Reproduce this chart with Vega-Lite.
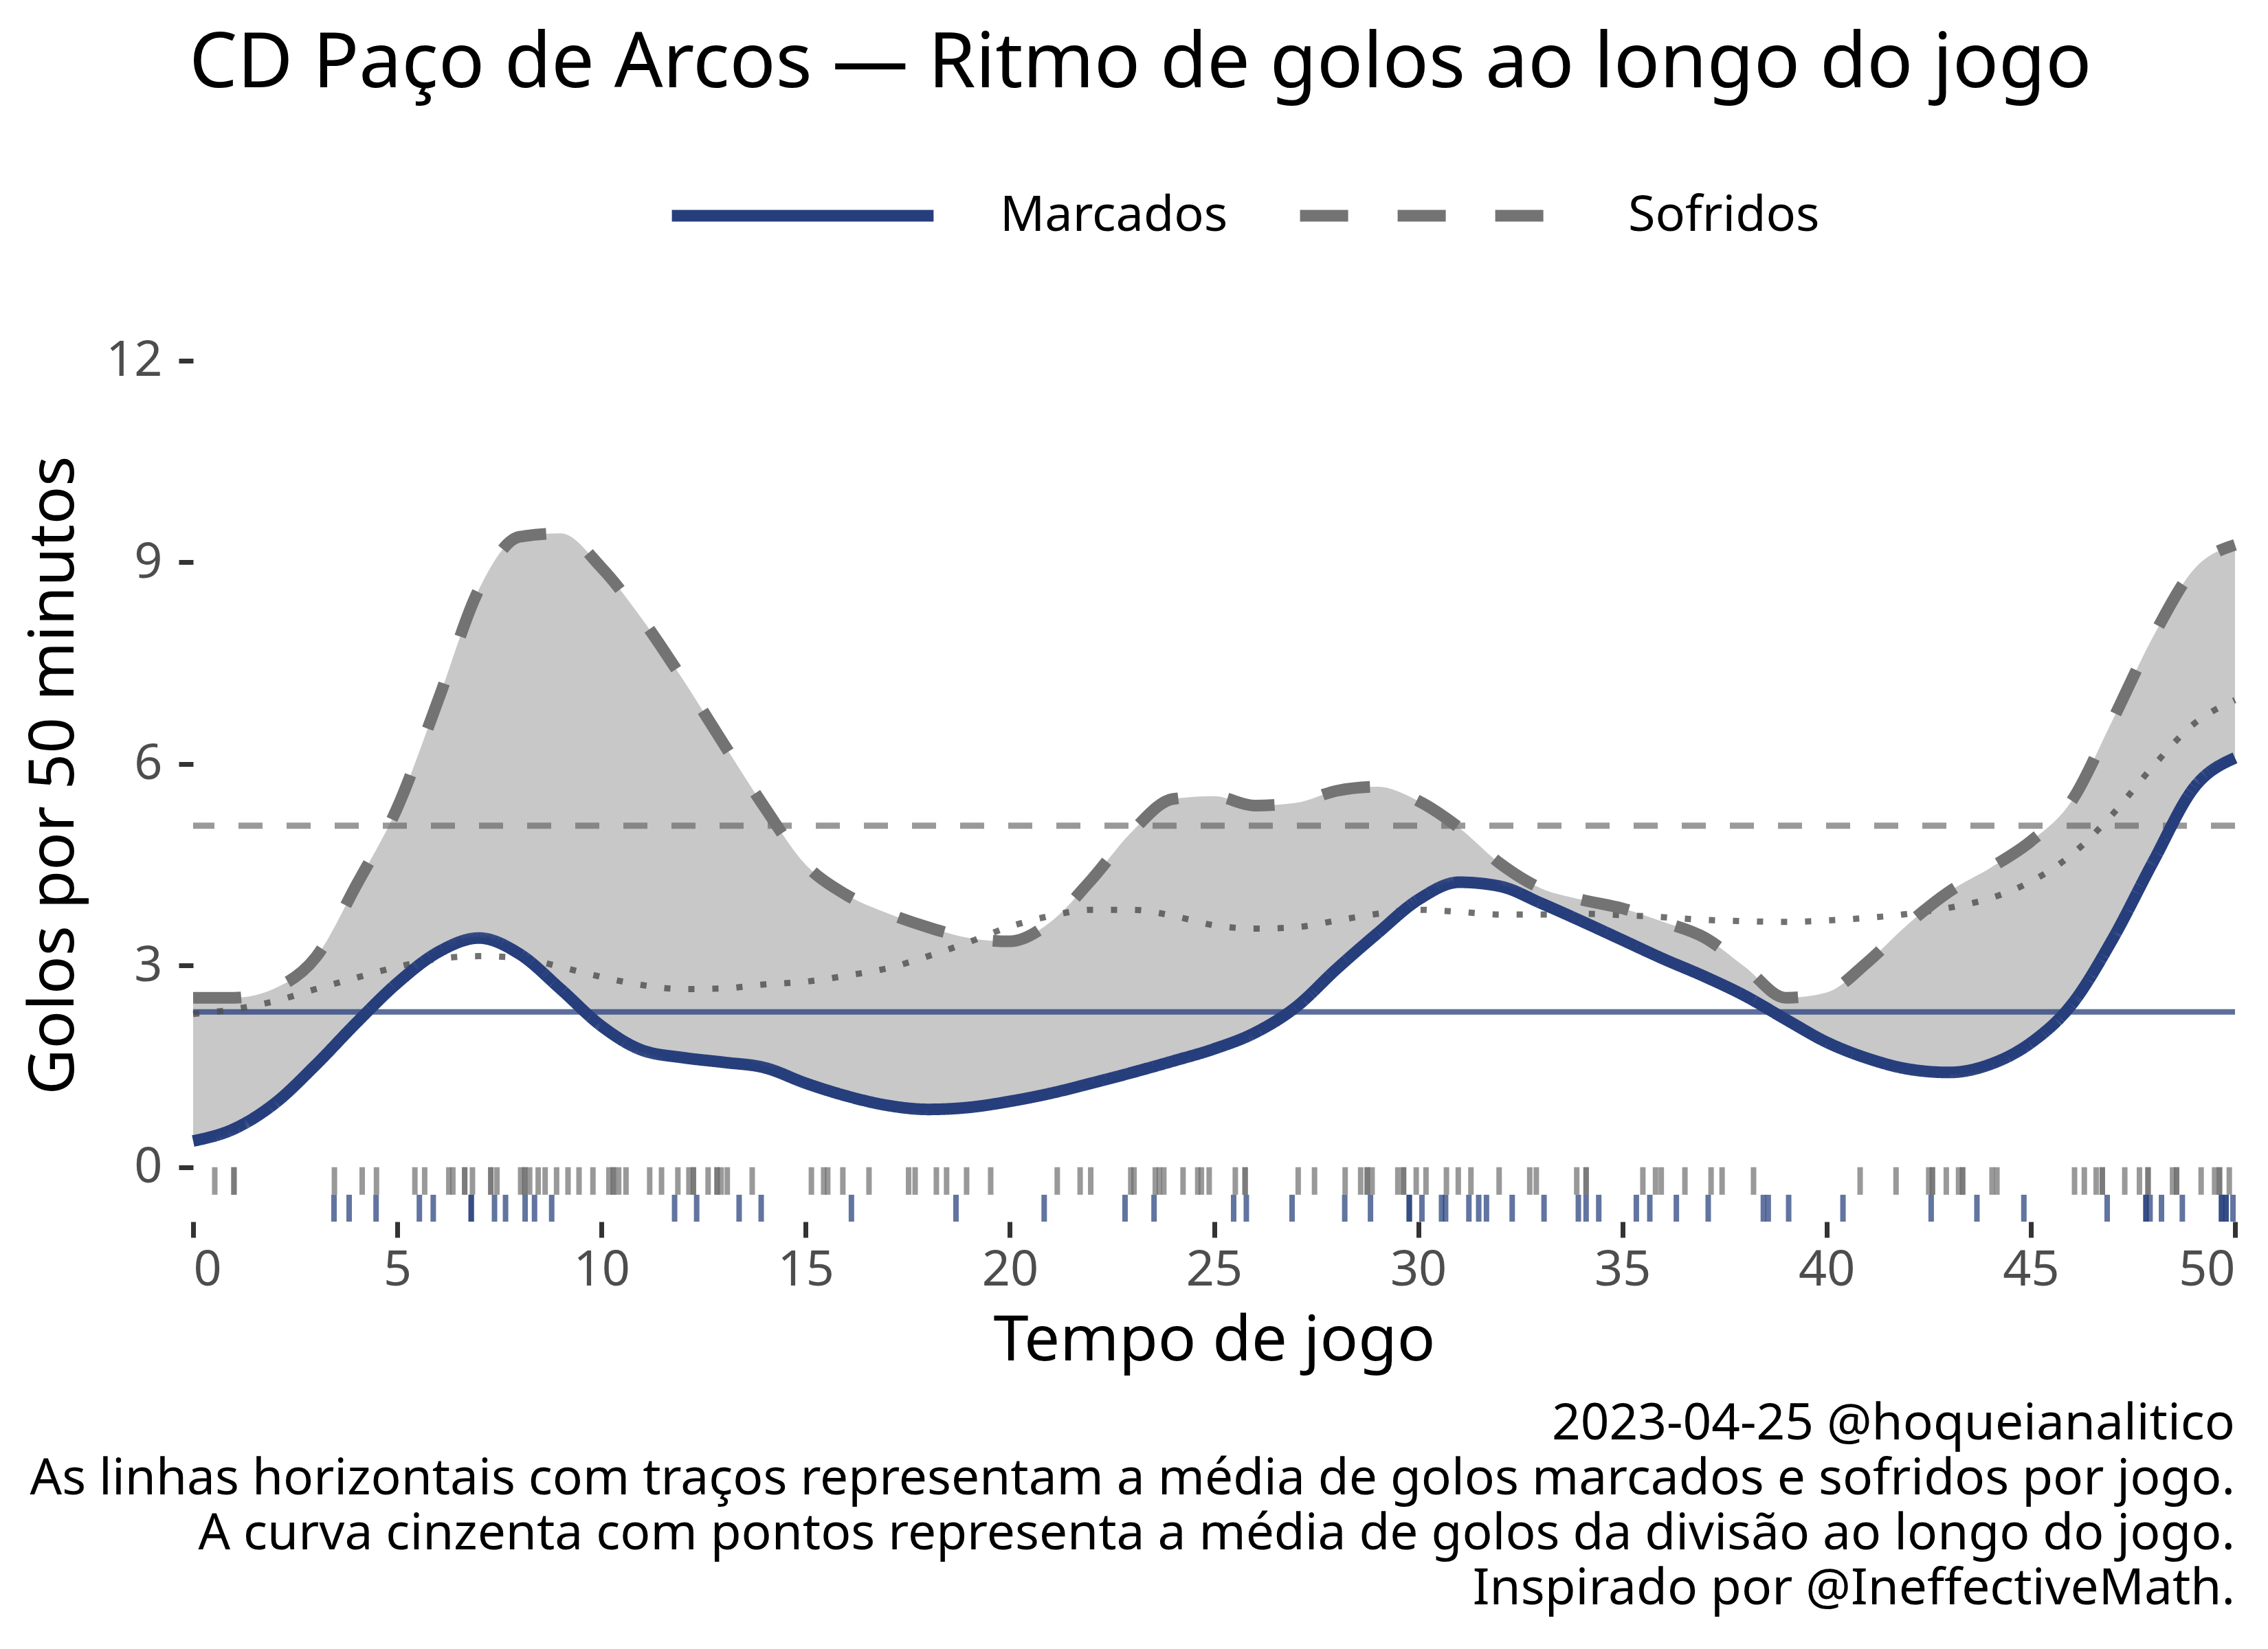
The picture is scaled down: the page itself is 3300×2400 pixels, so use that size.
{
  "$schema": "https://vega.github.io/schema/vega-lite/v6.json",
  "background": "white",
  "padding": {"left": 32, "top": 38, "right": 4, "bottom": 40},
  "config": {
    "font": "Noto Sans",
    "view": {"stroke": null},
    "concat": {"spacing": 0},
    "axis": {
      "domain": false,
      "grid": false,
      "tickColor": "#333333",
      "tickWidth": 7,
      "labelFont": "Noto Sans",
      "labelFontSize": 72,
      "labelColor": "#4d4d4d",
      "titleFont": "Noto Sans",
      "titleFontSize": 92,
      "titleFontWeight": "normal",
      "titleColor": "black"
    }
  },
  "title": {
    "text": "CD Paço de Arcos — Ritmo de golos ao longo do jogo",
    "font": "Noto Sans",
    "fontSize": 111,
    "fontWeight": "normal",
    "color": "black",
    "anchor": "middle",
    "frame": "bounds",
    "offset": -35
  },
  "datasets": {
    "curvas": [
      {"minuto": 0, "Marcados": 0.39, "Sofridos": 2.52, "Divisao": 2.28},
      {"minuto": 1, "Marcados": 0.57, "Sofridos": 2.52, "Divisao": 2.35},
      {"minuto": 2, "Marcados": 0.95, "Sofridos": 2.66, "Divisao": 2.47},
      {"minuto": 3, "Marcados": 1.52, "Sofridos": 3.12, "Divisao": 2.65},
      {"minuto": 4, "Marcados": 2.15, "Sofridos": 4.2, "Divisao": 2.82},
      {"minuto": 5, "Marcados": 2.74, "Sofridos": 5.35, "Divisao": 2.98},
      {"minuto": 6, "Marcados": 3.2, "Sofridos": 6.95, "Divisao": 3.1},
      {"minuto": 7, "Marcados": 3.41, "Sofridos": 8.6, "Divisao": 3.14},
      {"minuto": 8, "Marcados": 3.17, "Sofridos": 9.38, "Divisao": 3.11},
      {"minuto": 9, "Marcados": 2.65, "Sofridos": 9.43, "Divisao": 2.98},
      {"minuto": 10, "Marcados": 2.1, "Sofridos": 8.92, "Divisao": 2.83},
      {"minuto": 11, "Marcados": 1.74, "Sofridos": 8.15, "Divisao": 2.71},
      {"minuto": 12, "Marcados": 1.63, "Sofridos": 7.25, "Divisao": 2.65},
      {"minuto": 13, "Marcados": 1.56, "Sofridos": 6.29, "Divisao": 2.66},
      {"minuto": 14, "Marcados": 1.48, "Sofridos": 5.35, "Divisao": 2.72},
      {"minuto": 15, "Marcados": 1.25, "Sofridos": 4.5, "Divisao": 2.76},
      {"minuto": 16, "Marcados": 1.06, "Sofridos": 4.05, "Divisao": 2.85},
      {"minuto": 17, "Marcados": 0.92, "Sofridos": 3.78, "Divisao": 2.96},
      {"minuto": 18, "Marcados": 0.86, "Sofridos": 3.57, "Divisao": 3.14},
      {"minuto": 19, "Marcados": 0.89, "Sofridos": 3.41, "Divisao": 3.35},
      {"minuto": 20, "Marcados": 0.98, "Sofridos": 3.36, "Divisao": 3.58},
      {"minuto": 21, "Marcados": 1.1, "Sofridos": 3.65, "Divisao": 3.74},
      {"minuto": 22, "Marcados": 1.25, "Sofridos": 4.28, "Divisao": 3.83},
      {"minuto": 23, "Marcados": 1.41, "Sofridos": 5.0, "Divisao": 3.83},
      {"minuto": 24, "Marcados": 1.58, "Sofridos": 5.48, "Divisao": 3.74},
      {"minuto": 25, "Marcados": 1.76, "Sofridos": 5.52, "Divisao": 3.6},
      {"minuto": 26, "Marcados": 2.0, "Sofridos": 5.38, "Divisao": 3.55},
      {"minuto": 27, "Marcados": 2.38, "Sofridos": 5.42, "Divisao": 3.57},
      {"minuto": 28, "Marcados": 2.95, "Sofridos": 5.6, "Divisao": 3.67},
      {"minuto": 29, "Marcados": 3.48, "Sofridos": 5.66, "Divisao": 3.77},
      {"minuto": 30, "Marcados": 3.98, "Sofridos": 5.45, "Divisao": 3.83},
      {"minuto": 31, "Marcados": 4.24, "Sofridos": 5.05, "Divisao": 3.8},
      {"minuto": 32, "Marcados": 4.18, "Sofridos": 4.52, "Divisao": 3.76},
      {"minuto": 33, "Marcados": 3.93, "Sofridos": 4.15, "Divisao": 3.76},
      {"minuto": 34, "Marcados": 3.66, "Sofridos": 3.98, "Divisao": 3.77},
      {"minuto": 35, "Marcados": 3.38, "Sofridos": 3.85, "Divisao": 3.75},
      {"minuto": 36, "Marcados": 3.1, "Sofridos": 3.65, "Divisao": 3.72},
      {"minuto": 37, "Marcados": 2.84, "Sofridos": 3.42, "Divisao": 3.68},
      {"minuto": 38, "Marcados": 2.55, "Sofridos": 2.98, "Divisao": 3.66},
      {"minuto": 39, "Marcados": 2.2, "Sofridos": 2.52, "Divisao": 3.65},
      {"minuto": 40, "Marcados": 1.86, "Sofridos": 2.6, "Divisao": 3.67},
      {"minuto": 41, "Marcados": 1.62, "Sofridos": 3.05, "Divisao": 3.71},
      {"minuto": 42, "Marcados": 1.46, "Sofridos": 3.62, "Divisao": 3.77},
      {"minuto": 43, "Marcados": 1.41, "Sofridos": 4.1, "Divisao": 3.86},
      {"minuto": 44, "Marcados": 1.53, "Sofridos": 4.45, "Divisao": 4.0},
      {"minuto": 45, "Marcados": 1.85, "Sofridos": 4.85, "Divisao": 4.25},
      {"minuto": 46, "Marcados": 2.42, "Sofridos": 5.45, "Divisao": 4.65},
      {"minuto": 47, "Marcados": 3.39, "Sofridos": 6.65, "Divisao": 5.25},
      {"minuto": 48, "Marcados": 4.55, "Sofridos": 7.9, "Divisao": 5.97},
      {"minuto": 49, "Marcados": 5.65, "Sofridos": 8.9, "Divisao": 6.6},
      {"minuto": 50, "Marcados": 6.09, "Sofridos": 9.26, "Divisao": 6.95}
    ],
    "medias": [
      {"serie": "Sofridos", "media": 5.08},
      {"serie": "Marcados", "media": 2.31}
    ],
    "golos_sofridos": [
      {"minuto": 0.53}, {"minuto": 1.0}, {"minuto": 1.0}, {"minuto": 3.46}, {"minuto": 4.14}, {"minuto": 4.49},
      {"minuto": 5.43}, {"minuto": 5.67}, {"minuto": 6.26}, {"minuto": 6.36}, {"minuto": 6.65}, {"minuto": 6.65},
      {"minuto": 6.84}, {"minuto": 7.29}, {"minuto": 7.29}, {"minuto": 7.44}, {"minuto": 8.02}, {"minuto": 8.12},
      {"minuto": 8.12}, {"minuto": 8.24}, {"minuto": 8.45}, {"minuto": 8.62}, {"minuto": 8.9}, {"minuto": 9.18},
      {"minuto": 9.45}, {"minuto": 9.79}, {"minuto": 10.18}, {"minuto": 10.29}, {"minuto": 10.29}, {"minuto": 10.42},
      {"minuto": 10.6}, {"minuto": 11.18}, {"minuto": 11.47}, {"minuto": 11.87}, {"minuto": 12.14}, {"minuto": 12.25},
      {"minuto": 12.25}, {"minuto": 12.61}, {"minuto": 12.83}, {"minuto": 12.83}, {"minuto": 12.93}, {"minuto": 13.08},
      {"minuto": 13.69}, {"minuto": 15.14}, {"minuto": 15.44}, {"minuto": 15.54}, {"minuto": 15.91}, {"minuto": 16.55},
      {"minuto": 17.52}, {"minuto": 17.68}, {"minuto": 18.2}, {"minuto": 18.45}, {"minuto": 18.94}, {"minuto": 19.53},
      {"minuto": 21.16}, {"minuto": 21.72}, {"minuto": 21.98}, {"minuto": 22.96}, {"minuto": 23.04}, {"minuto": 23.56},
      {"minuto": 23.66}, {"minuto": 23.77}, {"minuto": 24.24}, {"minuto": 24.6}, {"minuto": 24.69}, {"minuto": 24.88},
      {"minuto": 25.52}, {"minuto": 25.76}, {"minuto": 25.76}, {"minuto": 27.06}, {"minuto": 27.46}, {"minuto": 28.21},
      {"minuto": 28.59}, {"minuto": 28.75}, {"minuto": 28.75}, {"minuto": 28.87}, {"minuto": 29.5}, {"minuto": 29.64},
      {"minuto": 29.64}, {"minuto": 29.95}, {"minuto": 30.19}, {"minuto": 30.69}, {"minuto": 30.98}, {"minuto": 31.29},
      {"minuto": 31.98}, {"minuto": 32.73}, {"minuto": 32.89}, {"minuto": 33.88}, {"minuto": 34.11}, {"minuto": 34.11},
      {"minuto": 35.5}, {"minuto": 35.81}, {"minuto": 35.95}, {"minuto": 36.53}, {"minuto": 37.17}, {"minuto": 37.44},
      {"minuto": 38.21}, {"minuto": 40.82}, {"minuto": 41.7}, {"minuto": 42.5}, {"minuto": 42.59}, {"minuto": 42.59},
      {"minuto": 42.93}, {"minuto": 43.23}, {"minuto": 43.33}, {"minuto": 43.33}, {"minuto": 44.05}, {"minuto": 44.17},
      {"minuto": 46.07}, {"minuto": 46.31}, {"minuto": 46.6}, {"minuto": 46.75}, {"minuto": 46.75}, {"minuto": 47.3},
      {"minuto": 47.66}, {"minuto": 47.87}, {"minuto": 47.87}, {"minuto": 48.47}, {"minuto": 48.57}, {"minuto": 48.57},
      {"minuto": 49.17}, {"minuto": 49.5}, {"minuto": 49.62}, {"minuto": 49.62}, {"minuto": 49.86}
    ],
    "golos_marcados": [
      {"minuto": 3.45}, {"minuto": 3.82}, {"minuto": 4.48}, {"minuto": 5.54}, {"minuto": 5.88}, {"minuto": 6.81},
      {"minuto": 6.81}, {"minuto": 7.38}, {"minuto": 7.65}, {"minuto": 8.13}, {"minuto": 8.36}, {"minuto": 8.78},
      {"minuto": 11.79}, {"minuto": 12.33}, {"minuto": 13.37}, {"minuto": 13.91}, {"minuto": 16.12}, {"minuto": 18.68},
      {"minuto": 20.84}, {"minuto": 22.82}, {"minuto": 23.53}, {"minuto": 25.48}, {"minuto": 25.79}, {"minuto": 26.91},
      {"minuto": 28.2}, {"minuto": 28.83}, {"minuto": 29.78}, {"minuto": 29.78}, {"minuto": 30.09}, {"minuto": 30.57},
      {"minuto": 30.67}, {"minuto": 31.24}, {"minuto": 31.48}, {"minuto": 31.67}, {"minuto": 32.3}, {"minuto": 33.08},
      {"minuto": 33.92}, {"minuto": 34.11}, {"minuto": 34.42}, {"minuto": 35.34}, {"minuto": 35.67}, {"minuto": 36.32},
      {"minuto": 37.1}, {"minuto": 38.45}, {"minuto": 38.57}, {"minuto": 39.07}, {"minuto": 40.4}, {"minuto": 42.56},
      {"minuto": 43.68}, {"minuto": 44.83}, {"minuto": 46.87}, {"minuto": 47.82}, {"minuto": 47.82}, {"minuto": 47.92},
      {"minuto": 48.2}, {"minuto": 48.71}, {"minuto": 49.67}, {"minuto": 49.67}, {"minuto": 49.78}, {"minuto": 49.78},
      {"minuto": 49.95}
    ]
  },
  "vconcat": [
    {
      "width": 2971,
      "height": 1300,
      "title": {
        "text": [
          "2023-04-25 @hoqueianalitico",
          "As linhas horizontais com traços representam a média de golos marcados e sofridos por jogo.",
          "A curva cinzenta com pontos representa a média de golos da divisão ao longo do jogo.",
          "Inspirado por @IneffectiveMath."
        ],
        "orient": "bottom",
        "anchor": "end",
        "frame": "group",
        "font": "Noto Sans",
        "fontSize": 73,
        "fontWeight": "normal",
        "color": "black",
        "lineHeight": 80,
        "offset": 40
      },
      "layer": [
        {
          "data": {"name": "curvas"},
          "mark": {"type": "area", "color": "#c8c8c8", "interpolate": "monotone"},
          "encoding": {
            "x": {
              "field": "minuto",
              "type": "quantitative",
              "scale": {"domain": [0, 50], "nice": false, "zero": false},
              "axis": {
                "title": "Tempo de jogo",
                "values": [0, 5, 10, 15, 20, 25, 30, 35, 40, 45, 50],
                "format": "d",
                "tickSize": 23,
                "labelPadding": 12,
                "titlePadding": 22
              }
            },
            "y": {
              "field": "Sofridos",
              "type": "quantitative",
              "scale": {"domain": [-0.81, 12.48], "nice": false, "zero": false},
              "axis": {
                "title": "Golos por 50 minutos",
                "values": [0, 3, 6, 9, 12],
                "format": "d",
                "tickSize": 21,
                "labelPadding": 24,
                "titlePadding": 28
              }
            },
            "y2": {"field": "Marcados"}
          }
        },
        {
          "data": {"name": "medias"},
          "transform": [{"filter": "datum.serie === 'Sofridos'"}],
          "mark": {"type": "rule", "color": "#636363", "opacity": 0.65, "strokeWidth": 9, "strokeDash": [35, 35]},
          "encoding": {"y": {"field": "media", "type": "quantitative"}}
        },
        {
          "data": {"name": "medias"},
          "transform": [{"filter": "datum.serie === 'Marcados'"}],
          "mark": {"type": "rule", "color": "#263e7c", "opacity": 0.75, "strokeWidth": 8},
          "encoding": {"y": {"field": "media", "type": "quantitative"}}
        },
        {
          "data": {"name": "curvas"},
          "mark": {"type": "line", "color": "#4d4d4d", "opacity": 0.8, "strokeWidth": 9, "strokeDash": [9, 26], "interpolate": "monotone"},
          "encoding": {
            "x": {"field": "minuto", "type": "quantitative"},
            "y": {"field": "Divisao", "type": "quantitative"}
          }
        },
        {
          "data": {"name": "curvas"},
          "transform": [{"fold": ["Marcados", "Sofridos"], "as": ["serie", "valor"]}],
          "mark": {"type": "line", "strokeWidth": 17, "interpolate": "monotone"},
          "encoding": {
            "x": {"field": "minuto", "type": "quantitative"},
            "y": {"field": "valor", "type": "quantitative"},
            "color": {
              "field": "serie",
              "type": "nominal",
              "scale": {"domain": ["Marcados", "Sofridos"], "range": ["#263e7c", "#737373"]},
              "legend": {
                "title": null,
                "orient": "none",
                "legendX": 688,
                "legendY": -363,
                "direction": "horizontal",
                "symbolType": "stroke",
                "symbolSize": 145000,
                "symbolStrokeWidth": 17,
                "labelFont": "Noto Sans",
                "labelFontSize": 72,
                "labelColor": "black",
                "labelLimit": 0,
                "labelOffset": 88,
                "columnPadding": 70
              }
            },
            "strokeDash": {
              "field": "serie",
              "type": "nominal",
              "scale": {"domain": ["Marcados", "Sofridos"], "range": [[1, 0], [70, 72]]},
              "legend": {
                "title": null,
                "orient": "none",
                "legendX": 688,
                "legendY": -363,
                "direction": "horizontal",
                "symbolType": "stroke",
                "symbolSize": 145000,
                "symbolStrokeWidth": 17,
                "labelFont": "Noto Sans",
                "labelFontSize": 72,
                "labelColor": "black",
                "labelLimit": 0,
                "labelOffset": 88,
                "columnPadding": 70
              }
            }
          }
        },
        {
          "data": {"name": "golos_sofridos"},
          "mark": {"type": "rule", "color": "#6e6e6e", "opacity": 0.7, "strokeWidth": 8},
          "encoding": {
            "x": {"field": "minuto", "type": "quantitative"},
            "y": {"datum": 0},
            "y2": {"datum": -0.41}
          }
        },
        {
          "data": {"name": "golos_marcados"},
          "mark": {"type": "rule", "color": "#263e7c", "opacity": 0.72, "strokeWidth": 8},
          "encoding": {
            "x": {"field": "minuto", "type": "quantitative"},
            "y": {"datum": -0.41},
            "y2": {"datum": -0.81}
          }
        }
      ]
    }
  ]
}
